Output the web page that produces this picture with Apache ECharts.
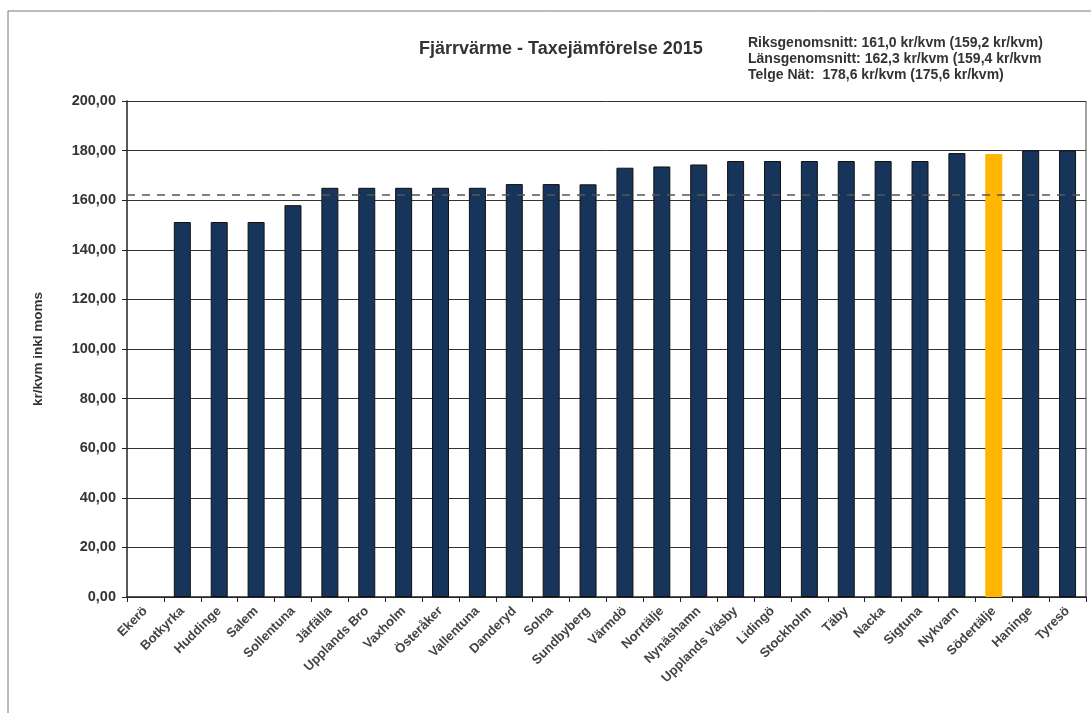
<!DOCTYPE html>
<html><head><meta charset="utf-8">
<script src="https://cdn.jsdelivr.net/npm/echarts@6/dist/echarts.min.js"></script>
<style>html,body{margin:0;padding:0;background:#fff}#c{width:1091px;height:713px}</style>
</head><body><div id="c"></div>
<script>
const categories = ['Ekerö','Botkyrka','Huddinge','Salem','Sollentuna','Järfälla','Upplands Bro','Vaxholm','Österåker','Vallentuna','Danderyd','Solna','Sundbyberg','Värmdö','Norrtälje','Nynäshamn','Upplands Väsby','Lidingö','Stockholm','Täby','Nacka','Sigtuna','Nykvarn','Södertälje','Haninge','Tyresö'];
const values = [null,151.2,151.2,151.2,158.0,165.0,165.0,165.0,165.0,165.0,166.5,166.5,166.4,173.1,173.6,174.4,175.8,175.8,175.8,175.8,175.8,175.8,179.0,178.6,180.1,180.1];
const highlight = 'Södertälje';
const lansSnitt = 162.3;
const titleText = 'Fjärrvärme - Taxejämförelse 2015';
const infoLines = ['Riksgenomsnitt: 161,0 kr/kvm (159,2 kr/kvm)','Länsgenomsnitt: 162,3 kr/kvm (159,4 kr/kvm','Telge Nät:  178,6 kr/kvm (175,6 kr/kvm)'];
const yName = 'kr/kvm inkl moms';

const font = 'Liberation Sans, Arial, sans-serif';
const chart = echarts.init(document.getElementById('c'), null, {renderer:'canvas'});
chart.setOption({
  backgroundColor:'#fff',
  animation:false,
  title:{text:titleText,left:414,top:35,textStyle:{fontFamily:font,fontSize:18,fontWeight:'bold',color:'#333'}},
  graphic:[
    {type:'text',left:748,top:35,style:{text:infoLines.join('\n'),font:'bold 14px '+font,fill:'#333',lineHeight:16}},
    {type:'line',shape:{x1:8,y1:11,x2:1091,y2:11},style:{stroke:'#777',lineWidth:1}},
    {type:'line',shape:{x1:8,y1:11,x2:8,y2:713},style:{stroke:'#777',lineWidth:1}},
    {type:'line',shape:{x1:1086,y1:101,x2:1086,y2:597},style:{stroke:'#444',lineWidth:1}}
  ],
  grid:{left:127,right:5,top:101,bottom:116},
  xAxis:{type:'category',data:categories,
    axisLine:{lineStyle:{color:'#222',width:1.5}},
    axisTick:{show:true,alignWithLabel:false,length:5,lineStyle:{color:'#222'}},
    axisLabel:{rotate:45,interval:0,fontFamily:font,fontSize:13,fontWeight:'bold',color:'#444',margin:12}},
  yAxis:{type:'value',min:0,max:200,interval:20,name:yName,nameLocation:'middle',nameGap:82,
    nameTextStyle:{fontFamily:font,fontSize:13.5,fontWeight:'bold',color:'#333'},
    axisLine:{show:true,lineStyle:{color:'#222',width:1.5}},
    axisTick:{show:true,length:5,lineStyle:{color:'#222'}},
    axisLabel:{fontFamily:font,fontSize:14.5,fontWeight:'bold',color:'#333',margin:11,formatter:v=>v.toFixed(2).replace('.',',')},
    splitLine:{lineStyle:{color:'#333',width:1}}},
  series:[{type:'bar',barWidth:17,
    data:values.map((v,i)=>categories[i]===highlight?{value:v,itemStyle:{color:'#ffb600',borderColor:'#ffb600'}}:v),
    itemStyle:{color:'#17345a',borderColor:'#111',borderWidth:1},
    markLine:{symbol:'none',silent:true,label:{show:false},
      lineStyle:{type:[8,7],color:'#555',width:1.5},
      data:[{yAxis:lansSnitt}]}
  }]
});
</script></body></html>
